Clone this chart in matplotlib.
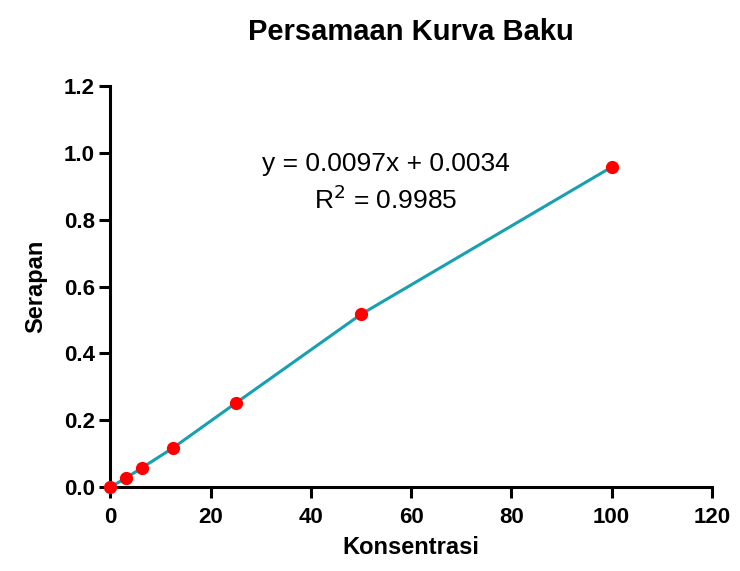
import matplotlib.pyplot as plt
import numpy as np

plt.rcParams['font.family'] = ['Liberation Sans', 'DejaVu Sans']

konsentrasi = [0, 3.125, 6.25, 12.5, 25, 50, 100]
serapan = [0.0, 0.027, 0.057, 0.117, 0.251, 0.517, 0.958]
persamaan = 'y = 0.0097x + 0.0034'
r2 = 'R$^2$ = 0.9985'

fig = plt.figure(figsize=(7.4, 5.71), dpi=100)
ax = fig.add_axes([0.149, 0.147, 0.813, 0.702])

ax.plot(konsentrasi, serapan, color='#17A0B0', linewidth=2.2, zorder=2)
ax.plot(konsentrasi, serapan, 'o', color='#FF0000', markersize=8.5, zorder=3, clip_on=False)

ax.set_xlim(0, 120)
ax.set_ylim(0, 1.2)
ax.set_xticks(np.arange(0, 121, 20))
ax.set_yticks(np.arange(0, 1.21, 0.2))
ax.set_yticklabels(['%.1f' % v for v in np.arange(0, 1.21, 0.2)])

for s in ['top', 'right']:
    ax.spines[s].set_visible(False)
for s in ['left', 'bottom']:
    ax.spines[s].set_linewidth(2.2)
ax.tick_params(direction='out', length=8, width=2.2, labelsize=16, pad=3)
ax.tick_params(axis='x', pad=6)
for lab in ax.get_xticklabels() + ax.get_yticklabels():
    lab.set_fontweight('bold')

ax.set_title('Persamaan Kurva Baku', fontsize=21, fontweight='bold', pad=33)
ax.set_xlabel('Konsentrasi', fontsize=17, fontweight='bold', labelpad=6)
ax.set_ylabel('Serapan', fontsize=17, fontweight='bold', labelpad=12)

ax.text(55, 0.968, persamaan, fontsize=19, ha='center', va='center')
ax.text(55, 0.86, r2, fontsize=19, ha='center', va='center')

plt.savefig('out.png', dpi=100)
